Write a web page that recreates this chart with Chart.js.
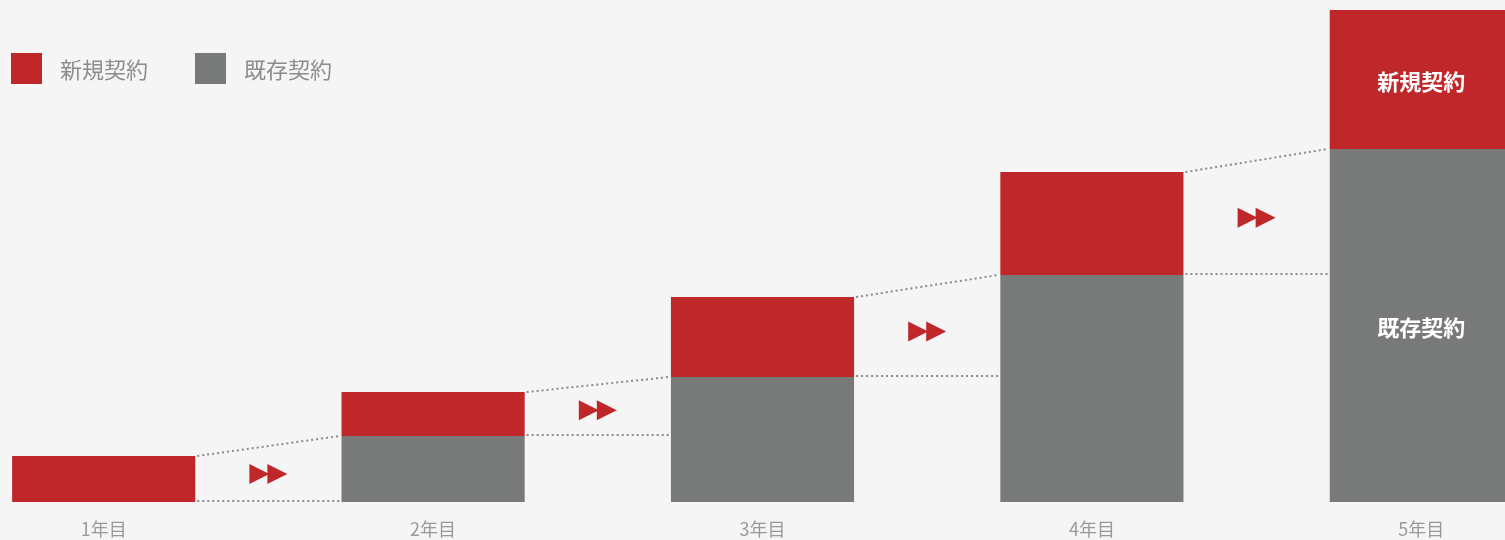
<!DOCTYPE html>
<html>
<head>
<meta charset="utf-8">
<script src="https://cdn.jsdelivr.net/npm/chart.js@4"></script>
<style>
  html, body { margin: 0; padding: 0; background: #f5f5f5; overflow: hidden; }
  body { width: 1505px; height: 540px; position: relative; font-family: "Noto Sans CJK JP", sans-serif; }
  #wrap { position: absolute; left: -61px; top: 0; width: 1647px; height: 540px; }
  .legend { position: absolute; top: 52px; left: 11px; display: flex; align-items: center; font-size: 22px; color: #8c8c8c; }
  .legend span.box { display: inline-block; width: 31px; height: 31px; margin-right: 18px; }
  .legend .item { display: flex; align-items: center; margin-right: 47px; }
</style>
</head>
<body>
<div id="wrap"><canvas id="myChart"></canvas></div>
<div class="legend">
  <div class="item"><span class="box" style="background:#c0272a"></span>新規契約</div>
  <div class="item"><span class="box" style="background:#777a79"></span>既存契約</div>
</div>
<script>
const years = ['1年目', '2年目', '3年目', '4年目', '5年目'];
const existing = [0, 6.6, 12.5, 22.7, 35.3];
const newContracts = [4.6, 4.4, 8.0, 10.3, 13.9];
const seriesNames = ['新規契約', '既存契約'];

const RED = '#c0272a';
const GRAY = '#777a79';

const overlay = {
  id: 'overlay',
  afterDatasetsDraw(chart) {
    const ctx = chart.ctx;
    const y = chart.scales.y;
    const barsNew = chart.getDatasetMeta(1).data;
    const barsOld = chart.getDatasetMeta(0).data;
    ctx.save();
    // connecting dotted lines
    ctx.strokeStyle = '#8a8a8a';
    ctx.lineWidth = 2;
    ctx.setLineDash([2, 3]);
    for (let i = 0; i < years.length - 1; i++) {
      const b = barsNew[i], n = barsNew[i + 1];
      const x1 = b.x + b.width / 2, x2 = n.x - n.width / 2;
      const topA = y.getPixelForValue(existing[i] + newContracts[i]);
      const topB = y.getPixelForValue(existing[i + 1]);
      const flat = y.getPixelForValue(existing[i]);
      ctx.beginPath();
      ctx.moveTo(x1 + 2, topA); ctx.lineTo(x2 - 2, topB);
      ctx.moveTo(x1 + 2, flat - 1); ctx.lineTo(x2 - 2, flat - 1);
      ctx.stroke();
      // double arrow
      const cx = (x1 + x2) / 2;
      const cy = ((topA + topB) / 2 + flat) / 2;
      ctx.setLineDash([]);
      ctx.fillStyle = RED;
      [-19, -1].forEach(off => {
        ctx.beginPath();
        ctx.moveTo(cx + off, cy - 10);
        ctx.lineTo(cx + off + 20, cy);
        ctx.lineTo(cx + off, cy + 10);
        ctx.closePath();
        ctx.fill();
      });
      ctx.setLineDash([2, 3]);
    }
    // labels inside the last bar
    const last = years.length - 1;
    ctx.fillStyle = '#ffffff';
    ctx.font = 'bold 22px "Noto Sans CJK JP"';
    ctx.textAlign = 'center';
    ctx.textBaseline = 'middle';
    const bx = barsNew[last].x;
    ctx.fillText(seriesNames[0], bx, (barsNew[last].y + barsNew[last].base) / 2 + 2);
    ctx.fillText(seriesNames[1], bx, (barsOld[last].y + barsOld[last].base) / 2 + 2);
    ctx.restore();
  }
};

new Chart(document.getElementById('myChart'), {
  type: 'bar',
  data: {
    labels: years,
    datasets: [
      { label: seriesNames[1], data: existing, backgroundColor: GRAY, barPercentage: 0.556, categoryPercentage: 1 },
      { label: seriesNames[0], data: newContracts, backgroundColor: RED, barPercentage: 0.556, categoryPercentage: 1 }
    ]
  },
  options: {
    responsive: true,
    maintainAspectRatio: false,
    animation: false,
    layout: { padding: 0 },
    plugins: { legend: { display: false }, tooltip: { enabled: false } },
    scales: {
      x: {
        stacked: true,
        grid: { display: false, drawTicks: false },
        border: { display: false },
        ticks: { color: '#999999', font: { family: '"Noto Sans CJK JP"', size: 18 }, padding: 16 },
        afterFit(scale) { scale.height = 38; }
      },
      y: { stacked: true, display: false, min: 0, max: 50.2 }
    }
  },
  plugins: [overlay]
});
</script>
</body>
</html>
